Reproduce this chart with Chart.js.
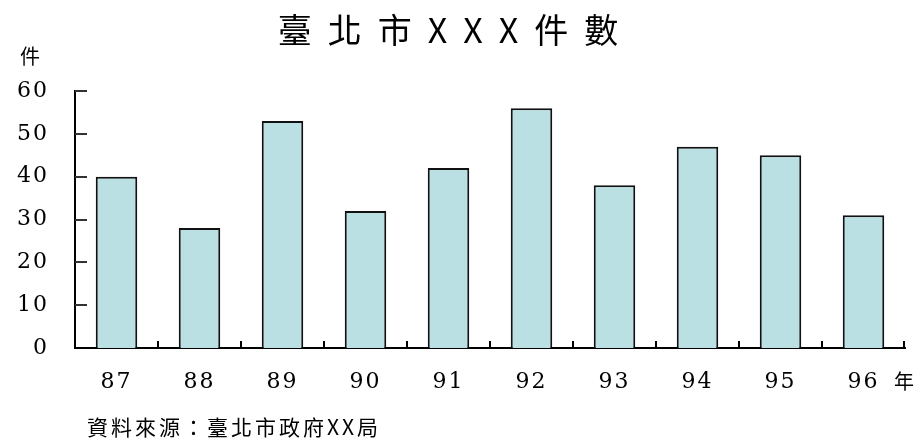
<!DOCTYPE html>
<html>
<head>
<meta charset="utf-8">
<script src="https://cdn.jsdelivr.net/npm/chart.js@4"></script>
<style>
html,body{margin:0;padding:0;background:#fff;}
#wrap{width:923px;height:439px;position:relative;}
</style>
</head>
<body>
<div id="wrap"><canvas id="c" width="923" height="439"></canvas></div>
<script>
const categories = ['87','88','89','90','91','92','93','94','95','96'];
const counts = [40, 28, 53, 32, 42, 56, 38, 47, 45, 31];
const yTicks = [0, 10, 20, 30, 40, 50, 60];
const titleText = '臺北市XXX件數';
const yUnit = '件';
const xUnit = '年';
const sourceText = '資料來源：臺北市政府XX局';

const CJK = '"Noto Sans CJK TC", "Noto Sans CJK SC", sans-serif';
const NUM = '"DejaVu Serif", "Liberation Serif", serif';

const decor = {
  id: 'decor',
  beforeDraw(chart) {
    chart.ctx.letterSpacing = '2px';
  },
  afterDraw(chart) {
    const ctx = chart.ctx;
    const area = chart.chartArea;
    const x = chart.scales.x, y = chart.scales.y;
    ctx.save();
    // inner y ticks
    ctx.strokeStyle = '#333';
    ctx.lineWidth = 2;
    yTicks.forEach(v => {
      if (v === 0) return;
      const py = Math.round(y.getPixelForValue(v));
      ctx.beginPath();
      ctx.moveTo(area.left, py);
      ctx.lineTo(area.left + 12, py);
      ctx.stroke();
    });
    // category boundary ticks on x axis
    ctx.strokeStyle = '#000';
    const n = categories.length;
    for (let i = 0; i < n; i++) {
      let px;
      if (i < n - 1) px = (x.getPixelForValue(i) + x.getPixelForValue(i + 1)) / 2;
      else px = area.right - 1;
      px = Math.round(px);
      ctx.beginPath();
      ctx.moveTo(px, area.bottom);
      ctx.lineTo(px, area.bottom - 7);
      ctx.stroke();
    }
    // texts
    ctx.fillStyle = '#000';
    ctx.textBaseline = 'middle';
    ctx.letterSpacing = '16px';
    ctx.font = '34px ' + CJK;
    ctx.textAlign = 'center';
    ctx.fillText(titleText, 456, 30);
    ctx.letterSpacing = '0px';
    ctx.font = '20px ' + CJK;
    ctx.textAlign = 'center';
    ctx.fillText(yUnit, 30, 56);
    ctx.font = '20px ' + CJK;
    ctx.fillText(xUnit, 904, 381);
    ctx.letterSpacing = '3px';
    ctx.font = '21px ' + CJK;
    ctx.textAlign = 'left';
    ctx.fillText(sourceText, 87, 427);
    ctx.restore();
    ctx.letterSpacing = '0px';
  }
};

new Chart(document.getElementById('c'), {
  type: 'bar',
  data: {
    labels: categories,
    datasets: [{
      data: counts,
      backgroundColor: '#BBE0E3',
      borderColor: '#111',
      borderWidth: 2,
      borderSkipped: 'bottom',
      barPercentage: 0.5,
      categoryPercentage: 1.0
    }]
  },
  options: {
    responsive: false,
    animation: false,
    devicePixelRatio: 1,
    layout: { padding: { top: 91, left: 0, right: 18, bottom: 31 } },
    plugins: { legend: { display: false }, title: { display: false }, tooltip: { enabled: false } },
    scales: {
      x: {
        grid: { display: false, drawTicks: false },
        border: { display: true, color: '#000', width: 2 },
        ticks: { color: '#000', font: { family: NUM, size: 22 }, padding: 21, maxRotation: 0 },
        afterFit(scale) { scale.height = 60; }
      },
      y: {
        min: 0, max: 60,
        grid: { display: false, drawTicks: false },
        border: { display: true, color: '#000', width: 2 },
        afterBuildTicks(scale) { scale.ticks = yTicks.map(v => ({ value: v })); },
        ticks: { color: '#000', font: { family: NUM, size: 22 }, padding: 26 },
        afterFit(scale) { scale.width = 75; }
      }
    }
  },
  plugins: [decor]
});
</script>
</body>
</html>
